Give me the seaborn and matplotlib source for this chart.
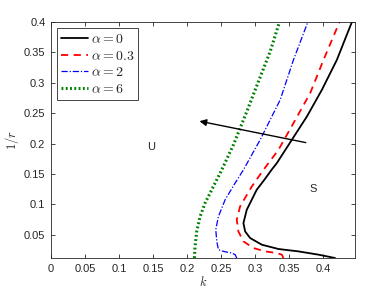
import numpy as np
import pandas as pd
import matplotlib
matplotlib.use("Agg")
import matplotlib.pyplot as plt
import seaborn as sns

# curve data (1/r versus k), ordered from bottom to top
r_a0 = [0.0117, 0.0172, 0.0226, 0.0265, 0.0336, 0.0446, 0.0555, 0.0692, 0.0911, 0.124, 0.1404, 0.1568, 0.1678, 0.2061, 0.2444, 0.2883, 0.3376, 0.4]
k_a0 = [0.417, 0.3927, 0.3633, 0.334, 0.3095, 0.2923, 0.285, 0.2825, 0.2874, 0.302, 0.3132, 0.3238, 0.3315, 0.3535, 0.3756, 0.3976, 0.4196, 0.4417]

r_a03 = [0.0117, 0.0172, 0.0199, 0.0226, 0.0281, 0.039, 0.0555, 0.0747, 0.0966, 0.1294, 0.1568, 0.1897, 0.2335, 0.2828, 0.3376, 0.4]
k_a03 = [0.3412, 0.3389, 0.3315, 0.3143, 0.2972, 0.2825, 0.2751, 0.2727, 0.2776, 0.2948, 0.3119, 0.3339, 0.3559, 0.3804, 0.4, 0.4235]

r_a2 = [0.0117, 0.0172, 0.0199, 0.0226, 0.0254, 0.039, 0.0582, 0.08, 0.1075, 0.135, 0.1568, 0.2061, 0.2718, 0.3376, 0.4]
k_a2 = [0.2727, 0.2703, 0.2654, 0.2531, 0.2458, 0.2434, 0.2419, 0.2458, 0.2556, 0.2703, 0.2825, 0.307, 0.3364, 0.3559, 0.377]

r_a6 = [0.0117, 0.0308, 0.0555, 0.08, 0.1021, 0.1294, 0.1568, 0.1979, 0.2526, 0.302, 0.3512, 0.4]
k_a6 = [0.2105, 0.2115, 0.214, 0.2189, 0.2262, 0.2384, 0.2507, 0.2678, 0.2874, 0.3045, 0.3217, 0.3354]

alphas = ["0", "0.3", "2", "6"]

sns.set_style("ticks")
plt.rcParams["font.family"] = ["Liberation Sans", "DejaVu Sans"]
plt.rcParams["mathtext.fontset"] = "cm"
plt.rcParams["xtick.direction"] = "in"
plt.rcParams["ytick.direction"] = "in"

fig = plt.figure(figsize=(3.92, 2.94), dpi=100)
ax = fig.add_axes([0.130, 0.122, 0.776, 0.803])

styles = [
    dict(color="black", lw=1.3, ls="-"),
    dict(color="red", lw=1.3, ls=(0, (4, 3))),
    dict(color="blue", lw=0.9, ls=(0, (5, 1.5, 1, 1.5))),
    dict(color="green", lw=2.2, ls=(0, (0.6, 0.8))),
]
curves = [(k_a0, r_a0), (k_a03, r_a03), (k_a2, r_a2), (k_a6, r_a6)]
for (k, r), a, st in zip(curves, alphas, styles):
    sns.lineplot(x=k, y=r, sort=False, estimator=None, ax=ax,
                 label=r"$\alpha = %s$" % a, **st)

# arrow showing increasing alpha
ax.annotate("", xy=(0.214, 0.2378), xytext=(0.378, 0.2007),
            arrowprops=dict(arrowstyle="-|>", color="black", lw=1.0,
                            mutation_scale=10))
ax.text(0.147, 0.195, "U", fontsize=8, ha="center", va="center")
ax.text(0.385, 0.126, "S", fontsize=8, ha="center", va="center")

ax.set_xlim(0, 0.4465)
ax.set_ylim(0.0115, 0.4)
ax.set_xticks([0, 0.05, 0.1, 0.15, 0.2, 0.25, 0.3, 0.35, 0.4])
ax.set_xticklabels(["0", "0.05", "0.1", "0.15", "0.2", "0.25", "0.3", "0.35", "0.4"])
ax.set_yticks([0.05, 0.1, 0.15, 0.2, 0.25, 0.3, 0.35, 0.4])
ax.set_yticklabels(["0.05", "0.1", "0.15", "0.2", "0.25", "0.3", "0.35", "0.4"])
ax.tick_params(axis="both", labelsize=8, colors="#262626", length=3,
               width=0.6, top=True, right=True, pad=4)
for s in ax.spines.values():
    s.set_visible(True)
    s.set_linewidth(0.6)
    s.set_color("#262626")
ax.set_xlabel("$k$", fontsize=9, labelpad=1)
ax.set_ylabel("$1/r$", fontsize=9, labelpad=2)

leg = ax.legend(loc="upper left", fontsize=10, handlelength=2.0,
                handletextpad=0.2, borderpad=0.25, labelspacing=0.2,
                fancybox=False, framealpha=1, borderaxespad=0.45)
leg.get_frame().set_edgecolor("#262626")
leg.get_frame().set_linewidth(0.6)

fig.savefig("out.png", dpi=100)
